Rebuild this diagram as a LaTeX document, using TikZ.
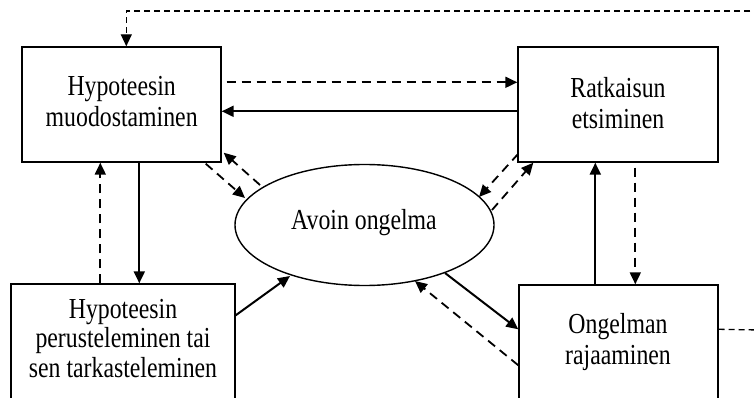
\documentclass[tikz,border=0pt]{standalone}
\usepackage{fontspec}
\setmainfont[FakeStretch=0.82]{Liberation Serif}
\usetikzlibrary{arrows.meta,shapes.geometric,calc}
\begin{document}
\begin{tikzpicture}[x=1pt,y=-1pt,
  box/.style={draw,rectangle,line width=1.4pt,inner sep=0pt},
  oval/.style={draw,ellipse,line width=1.4pt,inner sep=0pt,
    minimum width=259pt,minimum height=121pt},
  lbl/.style={font=\fontsize{29pt}{31pt}\selectfont,align=center,inner sep=0pt},
  tip/.style={-{Triangle[length=12pt,width=11pt]}},
  sol/.style={line width=2pt,tip},
  dsh/.style={line width=1.8pt,dash pattern=on 9pt off 6pt,tip},
  thin/.style={line width=1.3pt,dash pattern=on 6pt off 4pt}]
\useasboundingbox (0,0) rectangle (754,398);
\clip (0,0) rectangle (754,398);

% boxes and the central ellipse
\node[box,minimum width=199pt,minimum height=115pt] (A) at (121.5,104.5) {};
\node[box,minimum width=200pt,minimum height=115pt] (B) at (618,104.5) {};
\node[box,minimum width=224pt,minimum height=126pt] (C) at (123,347) {};
\node[box,minimum width=199pt,minimum height=125pt] (D) at (618.5,347.5) {};
\node[oval] (E) at (364.5,225) {};

% texts
\node[lbl] (At) at (121.7,102) {Hypoteesin\\muodostaminen};
\node[lbl] (Bt) at (618,103) {Ratkaisun\\etsiminen};
\node[lbl,font=\fontsize{29pt}{29.5pt}\selectfont] (Ct) at (123,338.5)
  {Hypoteesin\\perusteleminen tai\\sen tarkasteleminen};
\node[lbl] (Dt) at (618,342) {Ongelman\\rajaaminen};
\node[lbl] (Et) at (364,223) {Avoin ongelma};

% loose ends of the feedback lines
\coordinate (rtop) at (760,11);
\coordinate (rmid) at (760,330);

% feedback loop into the top box
\draw[thin,tip] (rtop) -| ($(A.north west)+(105,0)$);
\draw[thin] ($(D.north east)+(0,45)$) -- (rmid);

% top row
\draw[dsh] ($(A.north east)+(5,36)$) -- ($(B.north west)+(0,36)$);
\draw[sol] ($(B.north west)+(0,65)$) -- ($(A.north east)+(0,65)$);

% left column
\draw[sol] ($(A.south west)+(118,0)$) -- ($(C.north west)+(129,0)$);
\draw[dsh] ($(C.north west)+(90,0)$) -- ($(A.south west)+(79,0)$);

% right column
\draw[sol] ($(D.north west)+(77,0)$) -- ($(B.south west)+(78,0)$);
\draw[dsh] ($(B.south west)+(118,5)$) -- ($(D.north west)+(117,0)$);

% links with the ellipse
\draw[dsh] ($(A.south east)+(-16,1)$) -- ($(E.center)+(-119.5,-27)$);
\draw[dsh] ($(E.center)+(-104.5,-40)$) -- ($(A.south east)+(2,-10)$);
\draw[dsh] ($(B.south west)+(1,-9)$) -- ($(E.center)+(114.5,-28)$);
\draw[dsh] ($(E.center)+(127.5,-15)$) -- ($(B.south west)+(16,0)$);
\draw[sol] ($(C.north east)+(0,32)$) -- ($(E.center)+(-74.5,51)$);
\draw[sol] ($(E.center)+(80.5,48)$) -- ($(D.north west)+(0,45)$);
\draw[dsh] ($(D.north west)+(0,81)$) -- ($(E.center)+(50.5,56)$);
\end{tikzpicture}
\end{document}
